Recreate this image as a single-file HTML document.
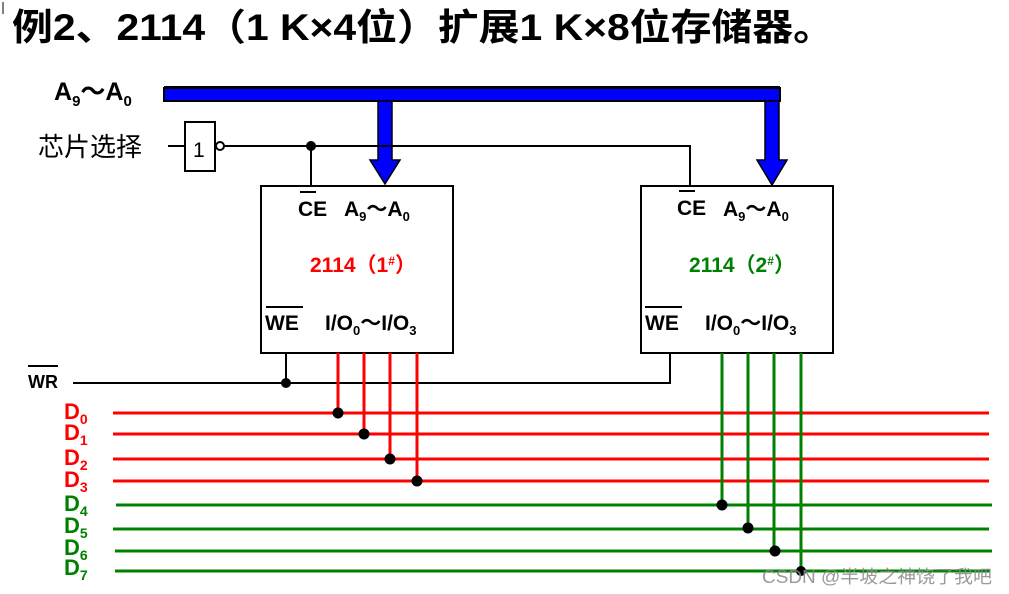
<!DOCTYPE html>
<html><head><meta charset="utf-8"><style>
html,body{margin:0;padding:0;background:#fff;}
svg{display:block;}
text{font-family:"Liberation Sans","Noto Sans CJK SC",sans-serif;}
.b{font-weight:bold;}
</style></head><body>
<svg width="1009" height="594" viewBox="0 0 1009 594" xmlns="http://www.w3.org/2000/svg">
<line x1="3" y1="2" x2="3" y2="14" stroke="#000" stroke-width="1"/>
<text x="12" y="40" font-size="37" class="b" textLength="822" lengthAdjust="spacingAndGlyphs">例2、2114（1 K×4位）扩展1 K×8位存储器。</text>

<!-- address bus -->
<text x="54" y="100" font-size="25" class="b">A<tspan font-size="15" dy="6">9</tspan><tspan dy="-6">～A</tspan><tspan font-size="15" dy="6">0</tspan></text>
<path d="M164 88 H780 V101 H164 Z" fill="#0000ff" stroke="#000" stroke-width="2"/>
<line x1="164" y1="87.5" x2="780" y2="87.5" stroke="#000" stroke-width="3"/>
<path d="M378 101 V160 H370 L385 184 L400 160 H392 V101 Z" fill="#0000ff" stroke="#000" stroke-width="1.5"/>
<path d="M765 101 V160 H757 L772 185 L787 160 H779 V101 Z" fill="#0000ff" stroke="#000" stroke-width="1.5"/>

<!-- chip select -->
<text x="38" y="156" font-size="26">芯片选择</text>
<line x1="168" y1="146" x2="185" y2="146" stroke="#000" stroke-width="2"/>
<rect x="185" y="122" width="30" height="49" fill="#fff" stroke="#000" stroke-width="2"/>
<text x="193" y="157" font-size="21" font-family="Liberation Serif,serif">1</text>
<circle cx="220" cy="146" r="4" fill="#fff" stroke="#000" stroke-width="2"/>
<polyline points="224,146 690,146 690,186" fill="none" stroke="#000" stroke-width="2"/>
<line x1="311" y1="146" x2="311" y2="186" stroke="#000" stroke-width="2"/>
<circle cx="311" cy="146" r="5" fill="#000"/>

<!-- chips -->
<rect x="261" y="186" width="192" height="167" fill="#fff" stroke="#000" stroke-width="2"/>
<rect x="641" y="186" width="192" height="167" fill="#fff" stroke="#000" stroke-width="2"/>
<g font-size="21" class="b">
<text x="298" y="216">CE</text><line x1="300" y1="192" x2="316" y2="192" stroke="#000" stroke-width="2"/>
<text x="344" y="216">A<tspan font-size="13" dy="5">9</tspan><tspan dy="-5">～A</tspan><tspan font-size="13" dy="5">0</tspan></text>
<text x="265" y="330">WE</text><line x1="266" y1="307" x2="303" y2="307" stroke="#000" stroke-width="2"/>
<text x="325" y="330">I/O<tspan font-size="13" dy="5">0</tspan><tspan dy="-5">～I/O</tspan><tspan font-size="13" dy="5">3</tspan></text>
<text x="310" y="272" fill="#ff0000">2114（1<tspan font-size="12" dy="-7">#</tspan><tspan dy="7">）</tspan></text>

<text x="677" y="215">CE</text><line x1="679" y1="191" x2="695" y2="191" stroke="#000" stroke-width="2"/>
<text x="723" y="216">A<tspan font-size="13" dy="5">9</tspan><tspan dy="-5">～A</tspan><tspan font-size="13" dy="5">0</tspan></text>
<text x="645" y="330">WE</text><line x1="645" y1="307" x2="682" y2="307" stroke="#000" stroke-width="2"/>
<text x="705" y="330">I/O<tspan font-size="13" dy="5">0</tspan><tspan dy="-5">～I/O</tspan><tspan font-size="13" dy="5">3</tspan></text>
<text x="689" y="272" fill="#008000">2114（2<tspan font-size="12" dy="-7">#</tspan><tspan dy="7">）</tspan></text>
</g>

<!-- WR -->
<text x="28" y="388" font-size="18" class="b">WR</text>
<line x1="28" y1="366" x2="58" y2="366" stroke="#000" stroke-width="2"/>
<polyline points="73,383 670,383 670,353" fill="none" stroke="#000" stroke-width="2"/>
<line x1="286" y1="353" x2="286" y2="383" stroke="#000" stroke-width="2"/>
<circle cx="286" cy="383" r="5" fill="#000"/>

<!-- data lines -->
<g stroke-width="3" fill="none">
<g stroke="#ff0000">
<line x1="113" y1="413" x2="989" y2="413"/>
<line x1="113" y1="434" x2="989" y2="434"/>
<line x1="113" y1="459" x2="989" y2="459"/>
<line x1="113" y1="481" x2="989" y2="481"/>
<line x1="338" y1="353" x2="338" y2="413"/>
<line x1="364" y1="353" x2="364" y2="434"/>
<line x1="390" y1="353" x2="390" y2="459"/>
<line x1="417" y1="353" x2="417" y2="481"/>
</g>
<g stroke="#008000">
<line x1="116" y1="505" x2="992" y2="505"/>
<line x1="113" y1="529" x2="989" y2="529"/>
<line x1="115" y1="551" x2="992" y2="551"/>
<line x1="115" y1="571" x2="990" y2="571"/>
<line x1="722" y1="353" x2="722" y2="505"/>
<line x1="748" y1="353" x2="748" y2="529"/>
<line x1="774" y1="353" x2="774" y2="551"/>
<line x1="801" y1="353" x2="801" y2="571"/>
</g>
</g>
<g fill="#000">
<circle cx="338" cy="413" r="5.5"/><circle cx="364" cy="434" r="5.5"/>
<circle cx="390" cy="459" r="5.5"/><circle cx="417" cy="481" r="5.5"/>
<circle cx="722" cy="505" r="5.5"/><circle cx="748" cy="528" r="5.5"/>
<circle cx="775" cy="551" r="5.5"/><circle cx="801" cy="571" r="5"/>
</g>
<g font-size="22" class="b">
<text x="64" y="419" fill="#ff0000">D<tspan font-size="14" dy="5">0</tspan></text>
<text x="64" y="440" fill="#ff0000">D<tspan font-size="14" dy="5">1</tspan></text>
<text x="64" y="465" fill="#ff0000">D<tspan font-size="14" dy="5">2</tspan></text>
<text x="64" y="487" fill="#ff0000">D<tspan font-size="14" dy="5">3</tspan></text>
<text x="64" y="511" fill="#008000">D<tspan font-size="14" dy="5">4</tspan></text>
<text x="64" y="533" fill="#008000">D<tspan font-size="14" dy="5">5</tspan></text>
<text x="64" y="555" fill="#008000">D<tspan font-size="14" dy="5">6</tspan></text>
<text x="64" y="575" fill="#008000">D<tspan font-size="14" dy="5">7</tspan></text>
</g>
<text x="762" y="583" font-size="18" fill="#888" fill-opacity="0.85" textLength="230" lengthAdjust="spacingAndGlyphs">CSDN @半坡之神饶了我吧</text>
</svg>
</body></html>
